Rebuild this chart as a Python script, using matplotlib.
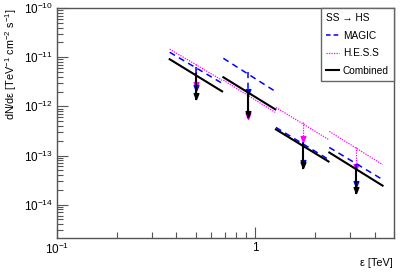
import matplotlib
matplotlib.use("Agg")
import matplotlib.pyplot as plt
from matplotlib.path import Path
from matplotlib.lines import Line2D
from matplotlib.ticker import NullFormatter, LogLocator

plt.rcParams['font.family'] = ['Liberation Sans', 'DejaVu Sans']
plt.rcParams['mathtext.fontset'] = 'custom'
plt.rcParams['mathtext.rm'] = 'Liberation Sans'
plt.rcParams['mathtext.it'] = 'Liberation Sans:italic'

# Energy bins [TeV]
e_lo = [0.37, 0.69, 1.27, 2.36]
e_hi = [0.68, 1.26, 2.34, 4.38]
e_c = [0.50, 0.92, 1.73, 3.20]

# Flux limits [TeV^-1 cm^-2 s^-1]: value at bin low edge, high edge, centre, arrow tip
magic_lo = [1.26e-11, 9.5e-12, 3.73e-13, 1.46e-13]
magic_hi = [2.95e-12, 2.02e-12, 8.3e-14, 3.24e-14]
magic_c = [6.25e-12, 4.94e-12, 1.84e-13, 6.87e-14]
magic_tip = [2.1e-12, 1.68e-12, 6.25e-14, 2.33e-14]

hess_lo = [1.46e-11, 3.40e-12, 9.5e-13, 3.09e-13]
hess_hi = [3.40e-12, 7.55e-13, 2.12e-13, 6.55e-14]
hess_c = [7.2e-12, 1.60e-12, 4.71e-13, 1.46e-13]
hess_tip = [2.33e-12, 5.43e-13, 1.84e-13, 5.18e-14]

comb_lo = [9.1e-12, 3.91e-12, 3.40e-13, 1.15e-13]
comb_hi = [2.02e-12, 8.7e-13, 7.55e-14, 2.44e-14]
comb_c = [4.5e-12, 1.76e-12, 1.68e-13, 5.18e-14]
comb_tip = [1.39e-12, 5.97e-13, 5.69e-14, 1.76e-14]

x_ticks = [0.1, 1]
x_ticklabels = [r'$10^{-1}$', '1']
y_ticks = [1e-14, 1e-13, 1e-12, 1e-11, 1e-10]
y_ticklabels = [r'$10^{-14}$', r'$10^{-13}$', r'$10^{-12}$', r'$10^{-11}$', r'$10^{-10}$']

fig = plt.figure(figsize=(4.07, 2.78), dpi=100)
ax = fig.add_axes([0.140, 0.144, 0.828, 0.827])
ax.set_xscale('log')
ax.set_yscale('log')
ax.set_xlim(0.1, 5.0)
ax.set_ylim(2.1e-15, 1e-10)

tip_marker = Path([(-0.8, 2), (0.8, 2), (0, 0), (-0.8, 2)],
                  [Path.MOVETO, Path.LINETO, Path.LINETO, Path.CLOSEPOLY])

def draw_set(lo, hi, c, tip, color, ls, lw, z):
    for i in range(len(e_lo)):
        ax.plot([e_lo[i], e_hi[i]], [lo[i], hi[i]], color=color, ls=ls, lw=lw, zorder=z)
        ax.plot([e_c[i], e_c[i]], [c[i], tip[i]], color=color, ls=ls, lw=lw, zorder=z)
        ax.plot([e_c[i]], [tip[i]], marker=tip_marker, ms=8.5, color=color,
                mec=color, ls='none', zorder=z)

draw_set(magic_lo, magic_hi, magic_c, magic_tip, '#0000ff', (0, (4, 3)), 1.1, 3)
draw_set(hess_lo, hess_hi, hess_c, hess_tip, '#ff00ff', (0, (1, 1)), 0.9, 2)
draw_set(comb_lo, comb_hi, comb_c, comb_tip, 'black', '-', 1.5, 4)

ax.set_xticks(x_ticks)
ax.set_xticklabels(x_ticklabels)
ax.set_yticks(y_ticks)
ax.set_yticklabels(y_ticklabels)
ax.xaxis.set_minor_locator(LogLocator(base=10, subs=range(2, 10)))
ax.yaxis.set_minor_locator(LogLocator(base=10, subs=range(2, 10)))
ax.xaxis.set_minor_formatter(NullFormatter())
ax.yaxis.set_minor_formatter(NullFormatter())
ax.tick_params(axis='both', which='major', direction='in', length=8, width=0.8,
               labelsize=8.5, top=False, right=False, color='#555555', pad=3)
ax.tick_params(axis='both', which='minor', direction='in', length=4, width=0.8,
               top=False, right=False, color='#555555')
for s in ax.spines.values():
    s.set_color('#555555')
    s.set_linewidth(1.0)

fig.text(0.008, 0.968, 'dN/dε [TeV$^{-1}$ cm$^{-2}$ s$^{-1}$]',
         rotation=90, ha='left', va='top', fontsize=7.8)
fig.text(0.966, 0.035, 'ε [TeV]', ha='right', va='bottom', fontsize=7.8)

handles = [Line2D([], [], color='#0000ff', ls=(0, (3, 2)), lw=1.1),
           Line2D([], [], color='#ff00ff', ls=(0, (1, 1)), lw=0.9),
           Line2D([], [], color='black', ls='-', lw=1.5)]
leg = ax.legend(handles, ['MAGIC', 'H.E.S.S', 'Combined'], title='SS → HS',
                loc='upper right', bbox_to_anchor=(1.0, 1.0), fontsize=7.3,
                title_fontsize=7.3, alignment='left', frameon=True, fancybox=False,
                edgecolor='#666666', framealpha=1, borderaxespad=0,
                handlelength=1.3, handletextpad=0.4, labelspacing=0.75,
                borderpad=0.5)
leg.get_frame().set_linewidth(1.0)

fig.savefig('out.png', dpi=100)
